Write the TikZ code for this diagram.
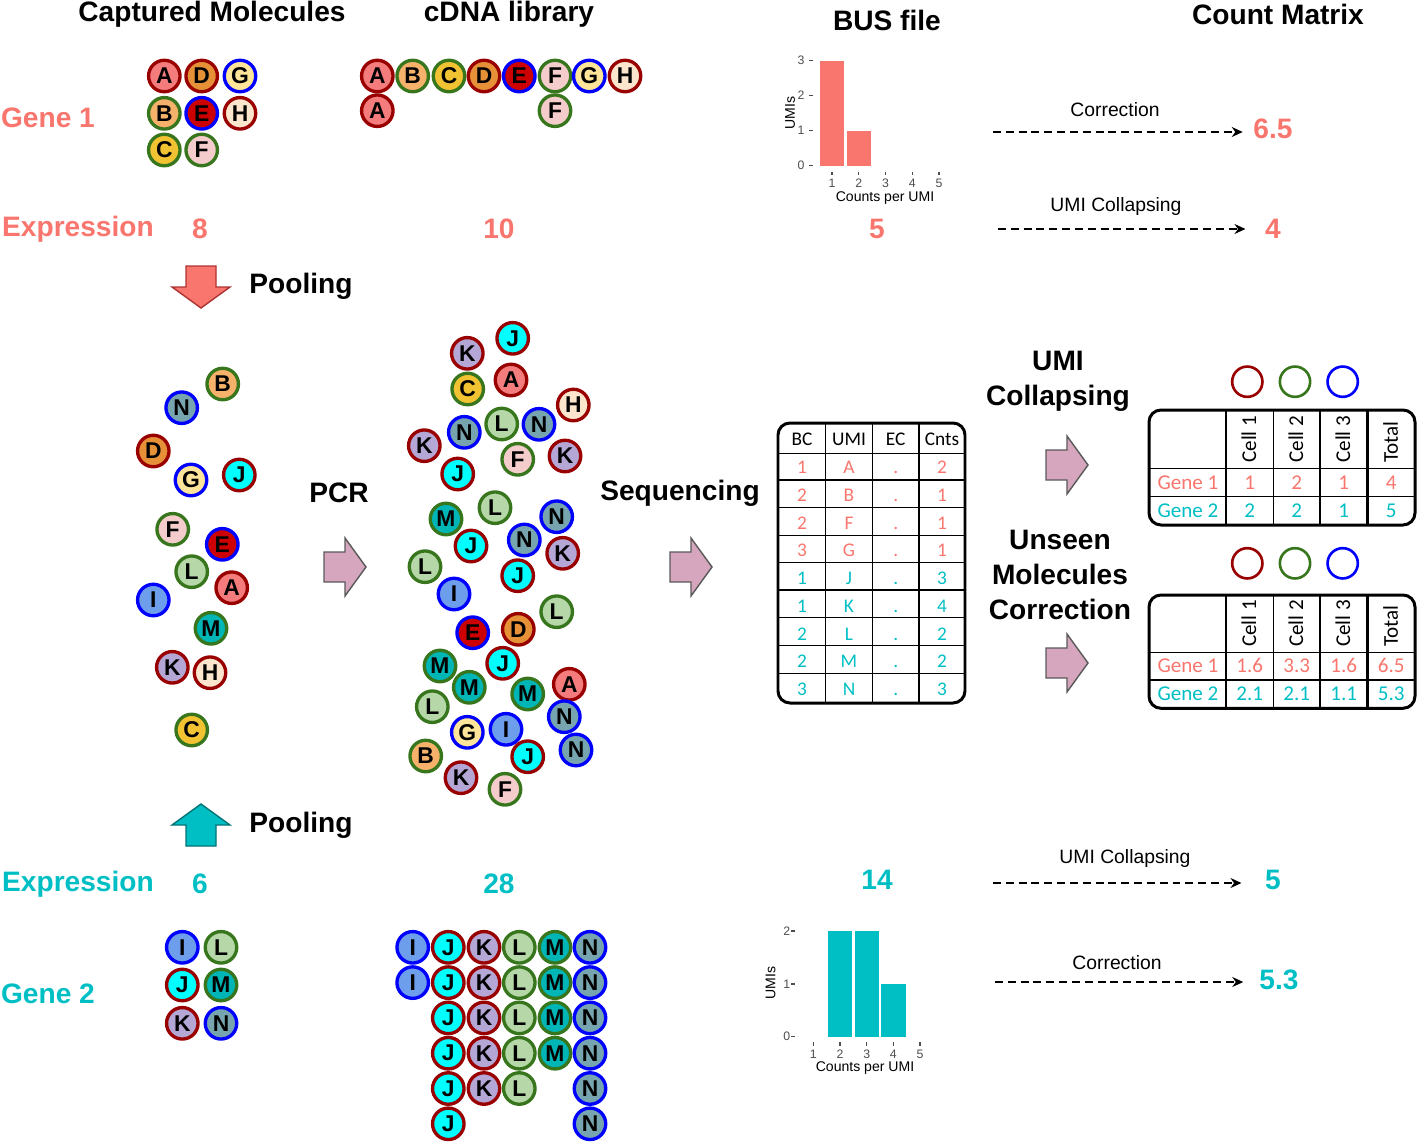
\documentclass[tikz,border=0pt]{standalone}
\usepackage{fontspec}
\setmainfont{Liberation Sans}
\newfontfamily\calfont{Carlito}
\usetikzlibrary{arrows.meta}
\definecolor{geneone}{HTML}{F8766D}
\definecolor{genetwo}{HTML}{00BFC4}
\definecolor{ringR}{HTML}{990000}
\definecolor{ringG}{HTML}{38761D}
\definecolor{ringB}{HTML}{0000FF}
\definecolor{fillA}{HTML}{F47C7C}
\definecolor{fillB}{HTML}{F6B26B}
\definecolor{fillC}{HTML}{F1C232}
\definecolor{fillD}{HTML}{E69138}
\definecolor{fillE}{HTML}{CC0000}
\definecolor{fillF}{HTML}{F4CCCC}
\definecolor{fillG}{HTML}{FFE599}
\definecolor{fillH}{HTML}{FCE5CD}
\definecolor{fillI}{HTML}{6D9EEB}
\definecolor{fillJ}{HTML}{00FFFF}
\definecolor{fillK}{HTML}{B4A7D6}
\definecolor{fillL}{HTML}{B6D7A8}
\definecolor{fillM}{HTML}{00B5B5}
\definecolor{fillN}{HTML}{76A5AF}
\definecolor{arrpink}{HTML}{D5A6BD}
\definecolor{axgray}{HTML}{4D4D4D}
\tikzset{mol/.style={circle,line width=1.9pt,minimum size=0.63cm,inner sep=0pt,font=\fontsize{13}{13}\selectfont\bfseries},
molA/.style={mol,fill=fillA,draw=ringR},molB/.style={mol,fill=fillB,draw=ringG},
molC/.style={mol,fill=fillC,draw=ringG},molD/.style={mol,fill=fillD,draw=ringR},
molE/.style={mol,fill=fillE,draw=ringB},molF/.style={mol,fill=fillF,draw=ringG},
molG/.style={mol,fill=fillG,draw=ringB},molH/.style={mol,fill=fillH,draw=ringR},
molI/.style={mol,fill=fillI,draw=ringB},molJ/.style={mol,fill=fillJ,draw=ringR},
molK/.style={mol,fill=fillK,draw=ringR},molL/.style={mol,fill=fillL,draw=ringG},
molM/.style={mol,fill=fillM,draw=ringG},molN/.style={mol,fill=fillN,draw=ringB},
bigtxt/.style={font=\fontsize{16}{19.8}\selectfont\bfseries,align=center},
lab/.style={font=\fontsize{11}{13}\selectfont},
dasharr/.style={-{Stealth[length=2.2mm,width=2mm]},line width=0.9pt,dash pattern=on 4.5pt off 2.8pt},
blockarr/.pic={\draw[pic actions] (-21,-15) -- (0,-15) -- (0,-29) -- (21,0) -- (0,29) -- (0,15) -- (-21,15) -- cycle;},
seqarr/.style={fill=arrpink,draw=black!65,line width=0.8pt},
bustxt/.style={font=\calfont\fontsize{11}{11}\selectfont,text height=1.4ex,text depth=0pt,inner sep=0pt},
mattxt/.style={font=\calfont\fontsize{12}{12}\selectfont,text height=1.4ex,text depth=0pt,inner sep=0pt},
cellring/.style={circle,draw,line width=1.5pt,minimum size=0.606cm,inner sep=0pt},
axtick/.style={font=\fontsize{7}{7}\selectfont,text=axgray,inner sep=0pt},
axlab/.style={font=\fontsize{8}{8}\selectfont,inner sep=0pt}}

\begin{document}
\begin{tikzpicture}[x=0.02cm,y=-0.02cm]
\useasboundingbox (0,0) rectangle (1418,1144);
% titles
\node[bigtxt] (tcap) at (212,14) {Captured Molecules};
\node[bigtxt] (tcdna) at (509,14) {cDNA library};
\node[bigtxt] (tbus) at (887,20) {BUS file};
\node[bigtxt] (tmat) at (1278,14) {Count Matrix};
% gene 1 row
\node[bigtxt,text=geneone] (g1) at (48,118) {Gene 1};
\node[bigtxt,text=geneone] (g1expr) at (78,229) {Expression};
\node[bigtxt,text=geneone] (g1cap) at (200,229) {8};
\node[bigtxt,text=geneone] (g1cdna) at (499,229) {10};
\node[bigtxt,text=geneone] (g1bus) at (877,229) {5};
\node[bigtxt,text=geneone] (g1corr) at (1273,129) {6.5};
\node[bigtxt,text=geneone] (g1umi) at (1273,229) {4};
% gene 2 row
\node[bigtxt,text=genetwo] (g2expr) at (78,884) {Expression};
\node[bigtxt,text=genetwo] (g2cap) at (200,884) {6};
\node[bigtxt,text=genetwo] (g2cdna) at (499,884) {28};
\node[bigtxt,text=genetwo] (g2bus) at (877,880) {14};
\node[bigtxt,text=genetwo] (g2umi) at (1273,880) {5};
\node[bigtxt,text=genetwo] (g2corr) at (1279,980) {5.3};
\node[bigtxt,text=genetwo] (g2) at (48,994) {Gene 2};
% steps
\node[bigtxt] (tpool1) at (301,286) {Pooling};
\node[bigtxt] (tpool2) at (301,825) {Pooling};
\node[bigtxt] (tpcr) at (339,493) {PCR};
\node[bigtxt] (tseq) at (680,493) {Sequencing};
\node[bigtxt] (tumi) at (1058,381) {UMI\\Collapsing};
\node[bigtxt] (tunseen) at (1060,575) {Unseen\\Molecules\\Correction};
\pic[fill=geneone,draw=ringR!80,line width=0.8pt,rotate=-90] (poolarr1) at (201,287) {blockarr};
\pic[fill=genetwo,draw=genetwo!60!black,line width=0.8pt,rotate=90] (poolarr2) at (201,825) {blockarr};
\pic[seqarr] (pcrarr) at (345,567) {blockarr};
\pic[seqarr] (seqarrow) at (691,567) {blockarr};
\pic[seqarr] (umiarr) at (1067,465) {blockarr};
\pic[seqarr] (unseenarr) at (1067,663) {blockarr};
% dashed arrows to the totals
\node[lab] (lcorr1) at (1115,110) {Correction};
\node[lab] (lumi1) at (1116,206) {UMI Collapsing};
\node[lab] (lumi2) at (1125,858) {UMI Collapsing};
\node[lab] (lcorr2) at (1117,963) {Correction};
\coordinate (a1s) at (993,132);
\coordinate (a2s) at (998,229);
\coordinate (a3s) at (993,883);
\coordinate (a4s) at (995,982);
\draw[dasharr,shorten >=0.09cm] (a1s) -- (a1s -| g1corr.west);
\draw[dasharr,shorten >=0.27cm] (a2s) -- (a2s -| g1umi.west);
\draw[dasharr,shorten >=0.35cm] (a3s) -- (a3s -| g2umi.west);
\draw[dasharr,shorten >=0.2cm] (a4s) -- (a4s -| g2corr.west);
% captured molecules gene 1
\node[molA] (c1A) at (164.3,76) {A};
\node[molD] (c1D) at (201.7,76) {D};
\node[molG] (c1G) at (240,76) {G};
\node[molB] (c1B) at (164.3,113.3) {B};
\node[molE] (c1E) at (201.7,113.3) {E};
\node[molH] (c1H) at (240,113.3) {H};
\node[molC] (c1C) at (164.3,150) {C};
\node[molF] (c1F) at (201.7,150) {F};
% cDNA gene 1
\node[molA] (d1A) at (377.3,76) {A};
\node[molB] (d1B) at (412.7,76) {B};
\node[molC] (d1C) at (449,76) {C};
\node[molD] (d1D) at (484,76) {D};
\node[molE] (d1E) at (519.3,76) {E};
\node[molF] (d1F) at (555,76) {F};
\node[molG] (d1G) at (589.3,76) {G};
\node[molH] (d1H) at (625,76) {H};
\node[molA] (d1Ab) at (377.3,110.7) {A};
\node[molF] (d1Fb) at (555,110.7) {F};
% captured molecules gene 2
\node[molI] (c2I) at (182.3,947.3) {I};
\node[molL] (c2L) at (221,947.3) {L};
\node[molJ] (c2J) at (182.3,985) {J};
\node[molM] (c2M) at (221,985) {M};
\node[molK] (c2K) at (182.3,1023.3) {K};
\node[molN] (c2N) at (221,1023.3) {N};
% cDNA gene 2
\node[molI] (d2I1) at (412.7,947.3) {I};
\node[molJ] (d2J1) at (448.3,947.3) {J};
\node[molK] (d2K1) at (484,947.3) {K};
\node[molL] (d2L1) at (519.3,947.3) {L};
\node[molM] (d2M1) at (555,947.3) {M};
\node[molN] (d2N1) at (590,947.3) {N};
\node[molI] (d2I2) at (412.7,982.6) {I};
\node[molJ] (d2J2) at (448.3,982.6) {J};
\node[molK] (d2K2) at (484,982.6) {K};
\node[molL] (d2L2) at (519.3,982.6) {L};
\node[molM] (d2M2) at (555,982.6) {M};
\node[molN] (d2N2) at (590,982.6) {N};
\node[molJ] (d2J3) at (448.3,1017.9) {J};
\node[molK] (d2K3) at (484,1017.9) {K};
\node[molL] (d2L3) at (519.3,1017.9) {L};
\node[molM] (d2M3) at (555,1017.9) {M};
\node[molN] (d2N3) at (590,1017.9) {N};
\node[molJ] (d2J4) at (448.3,1053.2) {J};
\node[molK] (d2K4) at (484,1053.2) {K};
\node[molL] (d2L4) at (519.3,1053.2) {L};
\node[molM] (d2M4) at (555,1053.2) {M};
\node[molN] (d2N4) at (590,1053.2) {N};
\node[molJ] (d2J5) at (448.3,1088.5) {J};
\node[molK] (d2K5) at (484,1088.5) {K};
\node[molL] (d2L5) at (519.3,1088.5) {L};
\node[molN] (d2N5) at (590,1088.5) {N};
\node[molJ] (d2J6) at (448.3,1123.8) {J};
\node[molN] (d2N6) at (590,1123.8) {N};
% pooled captured molecules
\node[molB] (pB) at (222.7,384) {B};
\node[molN] (pN) at (181.7,407.7) {N};
\node[molD] (pD) at (153.3,451) {D};
\node[molG] (pG) at (191,480) {G};
\node[molJ] (pJ) at (239.3,475) {J};
\node[molF] (pF) at (172.7,529.3) {F};
\node[molE] (pE) at (222.3,544.3) {E};
\node[molL] (pL) at (191.7,571.7) {L};
\node[molA] (pA) at (231.7,587.7) {A};
\node[molI] (pI) at (153.3,600) {I};
\node[molM] (pM) at (211,628.3) {M};
\node[molK] (pK) at (172.3,667.3) {K};
\node[molH] (pH) at (210,672.7) {H};
\node[molC] (pC) at (191.7,730) {C};
% pooled cDNA after PCR
\node[molJ] (qJ1) at (512.7,338.3) {J};
\node[molK] (qK1) at (467.3,353.3) {K};
\node[molA] (qA1) at (511,380) {A};
\node[molC] (qC1) at (467.7,389) {C};
\node[molH] (qH1) at (573.3,405) {H};
\node[molN] (qN1) at (464.3,432.3) {N};
\node[molL] (qL1) at (501.7,424) {L};
\node[molN] (qN2) at (539,424.3) {N};
\node[molK] (qK2) at (424.3,445.7) {K};
\node[molF] (qF1) at (517.7,459.3) {F};
\node[molK] (qK3) at (565,456) {K};
\node[molJ] (qJ2) at (457.7,474) {J};
\node[molL] (qL2) at (495,507.7) {L};
\node[molM] (qM1) at (446,519) {M};
\node[molN] (qN3) at (556.7,516.7) {N};
\node[molN] (qN4) at (524.3,540) {N};
\node[molJ] (qJ3) at (471,546) {J};
\node[molK] (qK4) at (562.7,553.3) {K};
\node[molL] (qL3) at (425,566.7) {L};
\node[molJ] (qJ4) at (517.7,575.7) {J};
\node[molI] (qI1) at (454,594) {I};
\node[molL] (qL4) at (556.7,611.7) {L};
\node[molE] (qE1) at (472.7,632.7) {E};
\node[molD] (qD1) at (518.3,629.3) {D};
\node[molM] (qM2) at (440,666) {M};
\node[molJ] (qJ5) at (502.7,663.3) {J};
\node[molM] (qM3) at (469.3,687.3) {M};
\node[molM] (qM4) at (527.7,694) {M};
\node[molA] (qA2) at (569.3,684.3) {A};
\node[molL] (qL5) at (432.3,706.7) {L};
\node[molN] (qN5) at (564.3,716.7) {N};
\node[molG] (qG1) at (467.3,732.3) {G};
\node[molI] (qI2) at (506,729.3) {I};
\node[molN] (qN6) at (576,750) {N};
\node[molJ] (qJ6) at (527.7,756.7) {J};
\node[molB] (qB1) at (425.7,756) {B};
\node[molK] (qK5) at (461,777.7) {K};
\node[molF] (qF2) at (505,789.3) {F};
% BUS histogram gene 1
\fill[geneone] (820,165.5) rectangle (844,60.5);
\fill[geneone] (846.7,165.5) rectangle (870.7,130.5);
\draw[axgray,line width=0.6pt] (809,60.5) -- (812.5,60.5) (809,95.5) -- (812.5,95.5) (809,130.5) -- (812.5,130.5) (809,165.5) -- (812.5,165.5);
\draw[axgray,line width=0.6pt] (832,171.5) -- (832,175) (858.7,171.5) -- (858.7,175) (885.5,171.5) -- (885.5,175) (912.2,171.5) -- (912.2,175) (939,171.5) -- (939,175);
\node[axtick] (b1y3) at (801,60.5) {3};
\node[axtick] (b1y2) at (801,95.5) {2};
\node[axtick] (b1y1) at (801,130.5) {1};
\node[axtick] (b1y0) at (801,165.5) {0};
\node[axtick] (b1x1) at (832,183) {1};
\node[axtick] (b1x2) at (858.7,183) {2};
\node[axtick] (b1x3) at (885.5,183) {3};
\node[axtick] (b1x4) at (912.2,183) {4};
\node[axtick] (b1x5) at (939,183) {5};
\node[axlab] (b1xl) at (885,198) {Counts per UMI};
\node[axlab,rotate=90] (b1yl) at (790,113) {UMIs};
% BUS histogram gene 2
\fill[genetwo] (827.8,1036.7) rectangle (852.2,931);
\fill[genetwo] (854.5,1036.7) rectangle (878.9,931);
\fill[genetwo] (881.1,1036.7) rectangle (905.5,984);
\draw[axgray,line width=0.6pt] (791,931) -- (794.5,931) (791,984) -- (794.5,984) (791,1036.7) -- (794.5,1036.7);
\draw[axgray,line width=0.6pt] (813.3,1042) -- (813.3,1045.5) (840,1042) -- (840,1045.5) (866.7,1042) -- (866.7,1045.5) (893.3,1042) -- (893.3,1045.5) (920,1042) -- (920,1045.5);
\node[axtick] (b2y2) at (786.7,931) {2};
\node[axtick] (b2y1) at (786.7,984) {1};
\node[axtick] (b2y0) at (786.7,1036.7) {0};
\node[axtick] (b2x1) at (813.3,1054) {1};
\node[axtick] (b2x2) at (840,1054) {2};
\node[axtick] (b2x3) at (866.7,1054) {3};
\node[axtick] (b2x4) at (893.3,1054) {4};
\node[axtick] (b2x5) at (920,1054) {5};
\node[axlab] (b2xl) at (865,1068) {Counts per UMI};
\node[axlab,rotate=90] (b2yl) at (770.7,983) {UMIs};
% BUS table
\draw[line width=0.7pt] (825.7,423) -- (825.7,703) (872.3,423) -- (872.3,703) (919,423) -- (919,703);
\draw[line width=0.7pt] (778,453.3) -- (965,453.3) (778,480) -- (965,480) (778,507.7) -- (965,507.7) (778,535.7) -- (965,535.7) (778,562.7) -- (965,562.7) (778,590) -- (965,590) (778,617.3) -- (965,617.3) (778,645.3) -- (965,645.3) (778,673.3) -- (965,673.3);
\draw[line width=1.7pt,rounded corners=2.4mm] (778,423) rectangle (965,703);
\node[bustxt] (hbc) at (802,439) {BC};
\node[bustxt] (humi) at (849,439) {UMI};
\node[bustxt] (hec) at (895.7,439) {EC};
\node[bustxt] (hcnt) at (942,439) {Cnts};
\node[bustxt,text=geneone] (r1bc) at (802,467.2) {1};
\node[bustxt,text=geneone] (r1umi) at (849,467.2) {A};
\node[bustxt,text=geneone] (r1ec) at (895.7,467.2) {.};
\node[bustxt,text=geneone] (r1cnt) at (942,467.2) {2};
\node[bustxt,text=geneone] (r2bc) at (802,494.9) {2};
\node[bustxt,text=geneone] (r2umi) at (849,494.9) {B};
\node[bustxt,text=geneone] (r2ec) at (895.7,494.9) {.};
\node[bustxt,text=geneone] (r2cnt) at (942,494.9) {1};
\node[bustxt,text=geneone] (r3bc) at (802,522.7) {2};
\node[bustxt,text=geneone] (r3umi) at (849,522.7) {F};
\node[bustxt,text=geneone] (r3ec) at (895.7,522.7) {.};
\node[bustxt,text=geneone] (r3cnt) at (942,522.7) {1};
\node[bustxt,text=geneone] (r4bc) at (802,550.4) {3};
\node[bustxt,text=geneone] (r4umi) at (849,550.4) {G};
\node[bustxt,text=geneone] (r4ec) at (895.7,550.4) {.};
\node[bustxt,text=geneone] (r4cnt) at (942,550.4) {1};
\node[bustxt,text=genetwo] (r5bc) at (802,578.2) {1};
\node[bustxt,text=genetwo] (r5umi) at (849,578.2) {J};
\node[bustxt,text=genetwo] (r5ec) at (895.7,578.2) {.};
\node[bustxt,text=genetwo] (r5cnt) at (942,578.2) {3};
\node[bustxt,text=genetwo] (r6bc) at (802,605.9) {1};
\node[bustxt,text=genetwo] (r6umi) at (849,605.9) {K};
\node[bustxt,text=genetwo] (r6ec) at (895.7,605.9) {.};
\node[bustxt,text=genetwo] (r6cnt) at (942,605.9) {4};
\node[bustxt,text=genetwo] (r7bc) at (802,633.7) {2};
\node[bustxt,text=genetwo] (r7umi) at (849,633.7) {L};
\node[bustxt,text=genetwo] (r7ec) at (895.7,633.7) {.};
\node[bustxt,text=genetwo] (r7cnt) at (942,633.7) {2};
\node[bustxt,text=genetwo] (r8bc) at (802,661.4) {2};
\node[bustxt,text=genetwo] (r8umi) at (849,661.4) {M};
\node[bustxt,text=genetwo] (r8ec) at (895.7,661.4) {.};
\node[bustxt,text=genetwo] (r8cnt) at (942,661.4) {2};
\node[bustxt,text=genetwo] (r9bc) at (802,689.2) {3};
\node[bustxt,text=genetwo] (r9umi) at (849,689.2) {N};
\node[bustxt,text=genetwo] (r9ec) at (895.7,689.2) {.};
\node[bustxt,text=genetwo] (r9cnt) at (942,689.2) {3};
% count matrix after UMI collapsing
\node[cellring,draw=ringR] (m1cell1) at (1247.3,381.7) {};
\node[cellring,draw=ringG] (m1cell2) at (1295,381.7) {};
\node[cellring,draw=ringB] (m1cell3) at (1342.7,381.7) {};
\draw[line width=0.7pt] (1226,410) -- (1226,525) (1273.3,410) -- (1273.3,525) (1320,410) -- (1320,525) (1149,468.3) -- (1415,468.3) (1149,496.7) -- (1415,496.7);
\draw[line width=1.6pt] (1367.3,410) -- (1367.3,525);
\draw[line width=1.7pt,rounded corners=2.4mm] (1149,410) rectangle (1415,525);
\node[mattxt,rotate=90,anchor=west] (m1h1) at (1249.7,463) {Cell 1};
\node[mattxt,rotate=90,anchor=west] (m1h2) at (1296.7,463) {Cell 2};
\node[mattxt,rotate=90,anchor=west] (m1h3) at (1343.7,463) {Cell 3};
\node[mattxt,rotate=90,anchor=west] (m1ht) at (1391.3,463) {Total};
\node[mattxt,text=geneone] (m1g1) at (1188,482.5) {Gene 1};
\node[mattxt,text=geneone] (m1v11) at (1249.7,482.5) {1};
\node[mattxt,text=geneone] (m1v12) at (1296.7,482.5) {2};
\node[mattxt,text=geneone] (m1v13) at (1343.7,482.5) {1};
\node[mattxt,text=geneone] (m1v1t) at (1391.3,482.5) {4};
\node[mattxt,text=genetwo] (m1g2) at (1188,510.8) {Gene 2};
\node[mattxt,text=genetwo] (m1v21) at (1249.7,510.8) {2};
\node[mattxt,text=genetwo] (m1v22) at (1296.7,510.8) {2};
\node[mattxt,text=genetwo] (m1v23) at (1343.7,510.8) {1};
\node[mattxt,text=genetwo] (m1v2t) at (1391.3,510.8) {5};
% count matrix after correction
\node[cellring,draw=ringR] (m2cell1) at (1247.3,563.3) {};
\node[cellring,draw=ringG] (m2cell2) at (1295,563.3) {};
\node[cellring,draw=ringB] (m2cell3) at (1342.7,563.3) {};
\draw[line width=0.7pt] (1226,595) -- (1226,708.3) (1273.3,595) -- (1273.3,708.3) (1320,595) -- (1320,708.3) (1149,652.7) -- (1415,652.7) (1149,680) -- (1415,680);
\draw[line width=1.6pt] (1367.3,595) -- (1367.3,708.3);
\draw[line width=1.7pt,rounded corners=2.4mm] (1149,595) rectangle (1415,708.3);
\node[mattxt,rotate=90,anchor=west] (m2h1) at (1249.7,647.3) {Cell 1};
\node[mattxt,rotate=90,anchor=west] (m2h2) at (1296.7,647.3) {Cell 2};
\node[mattxt,rotate=90,anchor=west] (m2h3) at (1343.7,647.3) {Cell 3};
\node[mattxt,rotate=90,anchor=west] (m2ht) at (1391.3,647.3) {Total};
\node[mattxt,text=geneone] (m2g1) at (1188,666.3) {Gene 1};
\node[mattxt,text=geneone] (m2v11) at (1249.7,666.3) {1.6};
\node[mattxt,text=geneone] (m2v12) at (1296.7,666.3) {3.3};
\node[mattxt,text=geneone] (m2v13) at (1343.7,666.3) {1.6};
\node[mattxt,text=geneone] (m2v1t) at (1391.3,666.3) {6.5};
\node[mattxt,text=genetwo] (m2g2) at (1188,694.2) {Gene 2};
\node[mattxt,text=genetwo] (m2v21) at (1249.7,694.2) {2.1};
\node[mattxt,text=genetwo] (m2v22) at (1296.7,694.2) {2.1};
\node[mattxt,text=genetwo] (m2v23) at (1343.7,694.2) {1.1};
\node[mattxt,text=genetwo] (m2v2t) at (1391.3,694.2) {5.3};
\end{tikzpicture}
\end{document}
